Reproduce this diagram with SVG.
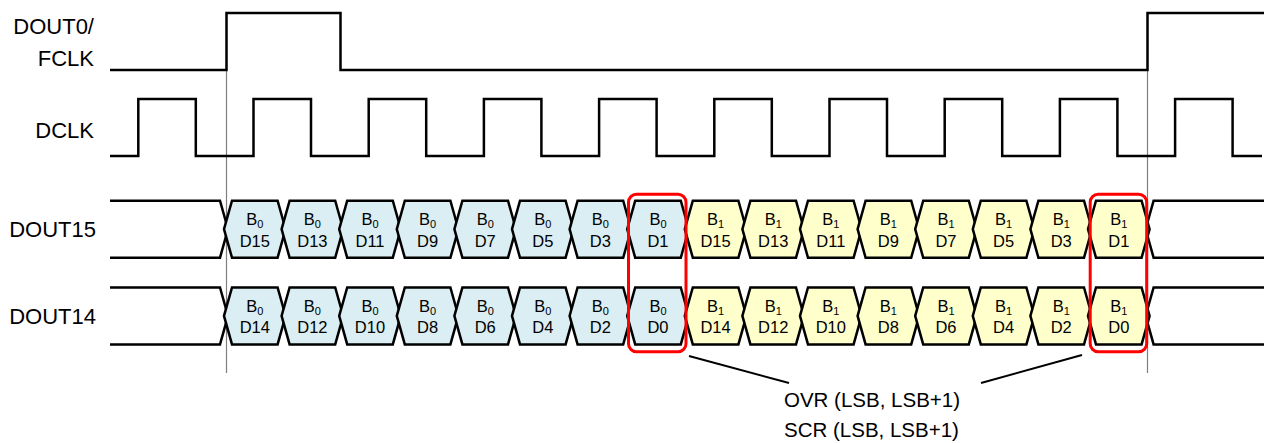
<svg xmlns="http://www.w3.org/2000/svg" width="1264" height="443" viewBox="0 0 1264 443">
<style>
.lbl{font-family:"Liberation Sans",Arial,sans-serif;font-size:22px;fill:#000;text-anchor:end}
.note{font-family:"Liberation Sans",Arial,sans-serif;font-size:20.5px;fill:#000}
.hx{font-family:"Liberation Sans",Arial,sans-serif;font-size:16.5px;fill:#000;text-anchor:middle}
.sub{font-size:11px}
.wave{fill:none;stroke:#000;stroke-width:2.5;stroke-linejoin:miter}
.hexb{fill:#DAEEF3;stroke:#000;stroke-width:2.5}
.hexy{fill:#FFFFCC;stroke:#000;stroke-width:2.5}
.guide{stroke:#7f7f7f;stroke-width:1.2;fill:none}
.hl{fill:none;stroke:#FF0000;stroke-width:3}
.ptr{stroke:#000;stroke-width:2;fill:none}
</style>
<defs>
<polygon id="hex" points="-2,28.5 6,0 51.6,0 59.6,28.5 51.6,57 6,57"/>
</defs>
<rect width="1264" height="443" fill="#fff"/>

<g id="guides">
<line class="guide" x1="226.5" y1="13" x2="226.5" y2="373"/>
<line class="guide" x1="1147.5" y1="13" x2="1147.5" y2="373"/>
</g>

<g id="labels">
<text class="lbl" x="94" y="34">DOUT0/</text>
<text class="lbl" x="94" y="66">FCLK</text>
<text class="lbl" x="94" y="138">DCLK</text>
<text class="lbl" x="96" y="237">DOUT15</text>
<text class="lbl" x="96" y="324">DOUT14</text>
</g>

<g id="fclk">
<path class="wave" d="M110,70 H226.5 V13 H340.5 V70 H1147.5 V13 H1264"/>
</g>
<g id="dclk">
<path class="wave" d="M110,156 H138.3 V99 H195.8 V156 H253.5 V99 H311 V156 H368.7 V99 H426.2 V156 H483.9 V99 H541.4 V156 H599.1 V99 H656.6 V156 H714.3 V99 H771.8 V156 H829.5 V99 H887 V156 H944.7 V99 H1002.2 V156 H1059.9 V99 H1117.4 V156 H1175.1 V99 H1232.6 V156 H1262"/>
</g>

<g id="dout15-bus">
<path class="wave" d="M110,200.7 H220 L228,229.2 L220,257.7 H110"/>
<path class="wave" d="M1264,200.7 H1153.6 L1145.6,229.2 L1153.6,257.7 H1264"/>
</g>
<g id="dout14-bus">
<path class="wave" d="M110,287.4 H220 L228,315.9 L220,344.4 H110"/>
<path class="wave" d="M1264,287.4 H1153.6 L1145.6,315.9 L1153.6,344.4 H1264"/>
</g>

<g id="dout15-b0-d15"><use href="#hex" class="hexb" x="226" y="200.7"/><text class="hx" x="254.8" y="225">B<tspan class="sub" dy="2.5">0</tspan></text><text class="hx" x="254.8" y="246.7">D15</text></g>
<g id="dout15-b0-d13"><use href="#hex" class="hexb" x="283.6" y="200.7"/><text class="hx" x="312.4" y="225">B<tspan class="sub" dy="2.5">0</tspan></text><text class="hx" x="312.4" y="246.7">D13</text></g>
<g id="dout15-b0-d11"><use href="#hex" class="hexb" x="341.2" y="200.7"/><text class="hx" x="370" y="225">B<tspan class="sub" dy="2.5">0</tspan></text><text class="hx" x="370" y="246.7">D11</text></g>
<g id="dout15-b0-d9"><use href="#hex" class="hexb" x="398.8" y="200.7"/><text class="hx" x="427.6" y="225">B<tspan class="sub" dy="2.5">0</tspan></text><text class="hx" x="427.6" y="246.7">D9</text></g>
<g id="dout15-b0-d7"><use href="#hex" class="hexb" x="456.4" y="200.7"/><text class="hx" x="485.2" y="225">B<tspan class="sub" dy="2.5">0</tspan></text><text class="hx" x="485.2" y="246.7">D7</text></g>
<g id="dout15-b0-d5"><use href="#hex" class="hexb" x="514" y="200.7"/><text class="hx" x="542.8" y="225">B<tspan class="sub" dy="2.5">0</tspan></text><text class="hx" x="542.8" y="246.7">D5</text></g>
<g id="dout15-b0-d3"><use href="#hex" class="hexb" x="571.6" y="200.7"/><text class="hx" x="600.4" y="225">B<tspan class="sub" dy="2.5">0</tspan></text><text class="hx" x="600.4" y="246.7">D3</text></g>
<g id="dout15-b0-d1"><use href="#hex" class="hexb" x="629.2" y="200.7"/><text class="hx" x="658" y="225">B<tspan class="sub" dy="2.5">0</tspan></text><text class="hx" x="658" y="246.7">D1</text></g>
<g id="dout15-b1-d15"><use href="#hex" class="hexy" x="686.8" y="200.7"/><text class="hx" x="715.6" y="225">B<tspan class="sub" dy="2.5">1</tspan></text><text class="hx" x="715.6" y="246.7">D15</text></g>
<g id="dout15-b1-d13"><use href="#hex" class="hexy" x="744.4" y="200.7"/><text class="hx" x="773.2" y="225">B<tspan class="sub" dy="2.5">1</tspan></text><text class="hx" x="773.2" y="246.7">D13</text></g>
<g id="dout15-b1-d11"><use href="#hex" class="hexy" x="802" y="200.7"/><text class="hx" x="830.8" y="225">B<tspan class="sub" dy="2.5">1</tspan></text><text class="hx" x="830.8" y="246.7">D11</text></g>
<g id="dout15-b1-d9"><use href="#hex" class="hexy" x="859.6" y="200.7"/><text class="hx" x="888.4" y="225">B<tspan class="sub" dy="2.5">1</tspan></text><text class="hx" x="888.4" y="246.7">D9</text></g>
<g id="dout15-b1-d7"><use href="#hex" class="hexy" x="917.2" y="200.7"/><text class="hx" x="946" y="225">B<tspan class="sub" dy="2.5">1</tspan></text><text class="hx" x="946" y="246.7">D7</text></g>
<g id="dout15-b1-d5"><use href="#hex" class="hexy" x="974.8" y="200.7"/><text class="hx" x="1003.6" y="225">B<tspan class="sub" dy="2.5">1</tspan></text><text class="hx" x="1003.6" y="246.7">D5</text></g>
<g id="dout15-b1-d3"><use href="#hex" class="hexy" x="1032.4" y="200.7"/><text class="hx" x="1061.2" y="225">B<tspan class="sub" dy="2.5">1</tspan></text><text class="hx" x="1061.2" y="246.7">D3</text></g>
<g id="dout15-b1-d1"><use href="#hex" class="hexy" x="1090" y="200.7"/><text class="hx" x="1118.8" y="225">B<tspan class="sub" dy="2.5">1</tspan></text><text class="hx" x="1118.8" y="246.7">D1</text></g>

<g id="dout14-b0-d14"><use href="#hex" class="hexb" x="226" y="287.4"/><text class="hx" x="254.8" y="312">B<tspan class="sub" dy="2.5">0</tspan></text><text class="hx" x="254.8" y="333.4">D14</text></g>
<g id="dout14-b0-d12"><use href="#hex" class="hexb" x="283.6" y="287.4"/><text class="hx" x="312.4" y="312">B<tspan class="sub" dy="2.5">0</tspan></text><text class="hx" x="312.4" y="333.4">D12</text></g>
<g id="dout14-b0-d10"><use href="#hex" class="hexb" x="341.2" y="287.4"/><text class="hx" x="370" y="312">B<tspan class="sub" dy="2.5">0</tspan></text><text class="hx" x="370" y="333.4">D10</text></g>
<g id="dout14-b0-d8"><use href="#hex" class="hexb" x="398.8" y="287.4"/><text class="hx" x="427.6" y="312">B<tspan class="sub" dy="2.5">0</tspan></text><text class="hx" x="427.6" y="333.4">D8</text></g>
<g id="dout14-b0-d6"><use href="#hex" class="hexb" x="456.4" y="287.4"/><text class="hx" x="485.2" y="312">B<tspan class="sub" dy="2.5">0</tspan></text><text class="hx" x="485.2" y="333.4">D6</text></g>
<g id="dout14-b0-d4"><use href="#hex" class="hexb" x="514" y="287.4"/><text class="hx" x="542.8" y="312">B<tspan class="sub" dy="2.5">0</tspan></text><text class="hx" x="542.8" y="333.4">D4</text></g>
<g id="dout14-b0-d2"><use href="#hex" class="hexb" x="571.6" y="287.4"/><text class="hx" x="600.4" y="312">B<tspan class="sub" dy="2.5">0</tspan></text><text class="hx" x="600.4" y="333.4">D2</text></g>
<g id="dout14-b0-d0"><use href="#hex" class="hexb" x="629.2" y="287.4"/><text class="hx" x="658" y="312">B<tspan class="sub" dy="2.5">0</tspan></text><text class="hx" x="658" y="333.4">D0</text></g>
<g id="dout14-b1-d14"><use href="#hex" class="hexy" x="686.8" y="287.4"/><text class="hx" x="715.6" y="312">B<tspan class="sub" dy="2.5">1</tspan></text><text class="hx" x="715.6" y="333.4">D14</text></g>
<g id="dout14-b1-d12"><use href="#hex" class="hexy" x="744.4" y="287.4"/><text class="hx" x="773.2" y="312">B<tspan class="sub" dy="2.5">1</tspan></text><text class="hx" x="773.2" y="333.4">D12</text></g>
<g id="dout14-b1-d10"><use href="#hex" class="hexy" x="802" y="287.4"/><text class="hx" x="830.8" y="312">B<tspan class="sub" dy="2.5">1</tspan></text><text class="hx" x="830.8" y="333.4">D10</text></g>
<g id="dout14-b1-d8"><use href="#hex" class="hexy" x="859.6" y="287.4"/><text class="hx" x="888.4" y="312">B<tspan class="sub" dy="2.5">1</tspan></text><text class="hx" x="888.4" y="333.4">D8</text></g>
<g id="dout14-b1-d6"><use href="#hex" class="hexy" x="917.2" y="287.4"/><text class="hx" x="946" y="312">B<tspan class="sub" dy="2.5">1</tspan></text><text class="hx" x="946" y="333.4">D6</text></g>
<g id="dout14-b1-d4"><use href="#hex" class="hexy" x="974.8" y="287.4"/><text class="hx" x="1003.6" y="312">B<tspan class="sub" dy="2.5">1</tspan></text><text class="hx" x="1003.6" y="333.4">D4</text></g>
<g id="dout14-b1-d2"><use href="#hex" class="hexy" x="1032.4" y="287.4"/><text class="hx" x="1061.2" y="312">B<tspan class="sub" dy="2.5">1</tspan></text><text class="hx" x="1061.2" y="333.4">D2</text></g>
<g id="dout14-b1-d0"><use href="#hex" class="hexy" x="1090" y="287.4"/><text class="hx" x="1118.8" y="312">B<tspan class="sub" dy="2.5">1</tspan></text><text class="hx" x="1118.8" y="333.4">D0</text></g>

<g id="highlight-b0">
<rect class="hl" x="628.5" y="194.3" width="57.5" height="157.4" rx="8"/>
</g>
<g id="highlight-b1">
<rect class="hl" x="1090.2" y="194.3" width="56.5" height="157.4" rx="8"/>
</g>

<g id="note">
<text class="note" x="784" y="407">OVR (LSB, LSB+1)</text>
<text class="note" x="784" y="437">SCR (LSB, LSB+1)</text>
</g>

<g id="connectors">
<line class="ptr" x1="689" y1="356" x2="789" y2="383"/>
<line class="ptr" x1="981" y1="383" x2="1082" y2="355"/>
</g>
</svg>
